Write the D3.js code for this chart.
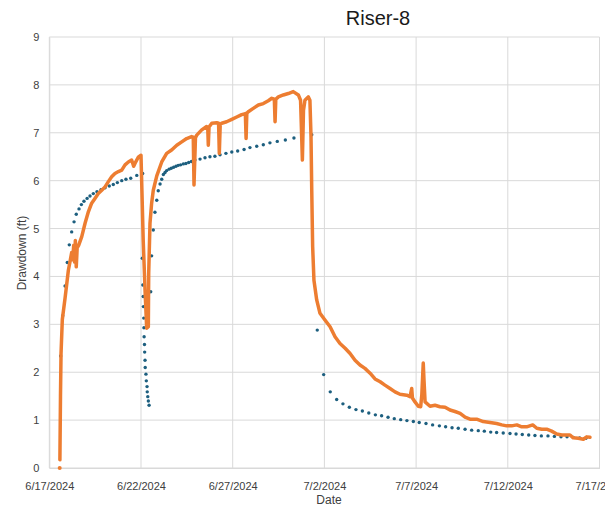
<!DOCTYPE html>
<html>
<head>
<meta charset="utf-8">
<script src="https://cdn.jsdelivr.net/npm/d3@7/dist/d3.min.js"></script>
<style>
  body { margin: 0; background: #fff; overflow: hidden; }
  text { font-family: "Liberation Sans", Arial, sans-serif; }
</style>
</head>
<body>
<div id="chart"></div>
<script>
// chart values
const startDate = new Date(2024, 5, 17);   // 6/17/2024
const endDate = new Date(2024, 6, 17);     // 7/17/2024
const xTickLabels = ["6/17/2024", "6/22/2024", "6/27/2024", "7/2/2024", "7/7/2024", "7/12/2024", "7/17/2024"];
const yTicks = [0, 1, 2, 3, 4, 5, 6, 7, 8, 9];

// measured drawdown (orange line), days since 6/17/2024 and feet
const measuredDays = [0.578, 0.61, 0.64, 0.71, 0.86, 1.04, 1.15, 1.22, 1.28, 1.33, 1.38, 1.42, 1.47, 1.52, 1.60, 1.77, 1.95, 2.13, 2.31, 2.49,
  2.67, 2.86, 3.04, 3.22, 3.40, 3.58, 3.77, 3.95, 4.13, 4.31, 4.49, 4.60, 4.67, 4.85, 5.0, 5.12, 5.22, 5.31, 5.40, 5.42,
  5.49, 5.58, 5.67, 5.86, 6.13, 6.40, 6.67, 6.95, 7.22, 7.49, 7.76, 7.85, 7.89, 7.97, 8.04, 8.31, 8.58, 8.64, 8.67, 8.71,
  8.86, 9.13, 9.23, 9.27, 9.32, 9.40, 9.67, 9.95, 10.22, 10.49, 10.69, 10.73, 10.77, 10.85, 11.12, 11.40, 11.67, 11.94, 12.13, 12.27,
  12.31, 12.35, 12.49, 12.76, 13.03, 13.30, 13.58, 13.70, 13.80, 13.86, 13.94, 14.12, 14.21, 14.27, 14.31, 14.36, 14.43, 14.58, 14.76, 15.03,
  15.31, 15.58, 15.85, 16.13, 16.40, 16.67, 16.94, 17.21, 17.49, 17.76, 18.04, 18.30, 18.58, 18.85, 19.12, 19.49, 19.67, 19.76, 19.80, 19.94,
  20.12, 20.25, 20.31, 20.39, 20.43, 20.49, 20.76, 21.03, 21.30, 21.58, 21.85, 22.12, 22.40, 22.67, 22.94, 23.30, 23.66, 24.03, 24.39, 24.67,
  24.94, 25.21, 25.49, 25.76, 26.03, 26.36, 26.58, 26.85, 27.12, 27.39, 27.67, 27.94, 28.21, 28.39, 28.57, 28.84, 29.12, 29.30, 29.48];
const measuredFt = [0.17, 1.5, 2.4, 3.1, 3.55, 4.13, 4.35, 4.5, 4.35, 4.65, 4.3, 4.75, 4.2, 4.6, 4.65, 4.83, 5.11, 5.35, 5.53, 5.63,
  5.73, 5.80, 5.87, 5.98, 6.08, 6.15, 6.19, 6.22, 6.33, 6.39, 6.43, 6.30, 6.36, 6.49, 6.53, 4.76, 3.72, 2.92, 2.95, 4.06,
  5.11, 5.53, 5.80, 6.10, 6.39, 6.57, 6.64, 6.74, 6.81, 6.88, 6.92, 6.91, 5.91, 6.90, 6.95, 7.06, 7.13, 7.10, 6.74, 7.12,
  7.20, 7.21, 7.20, 6.57, 7.18, 7.20, 7.23, 7.28, 7.33, 7.38, 7.40, 6.88, 7.41, 7.44, 7.51, 7.58, 7.61, 7.67, 7.72, 7.70,
  7.23, 7.70, 7.75, 7.79, 7.82, 7.86, 7.79, 7.68, 6.43, 7.47, 7.68, 7.75, 7.68, 6.92, 5.80, 4.62, 3.92, 3.51, 3.23, 3.09,
  2.95, 2.74, 2.60, 2.50, 2.39, 2.25, 2.15, 2.08, 1.98, 1.86, 1.80, 1.73, 1.66, 1.59, 1.54, 1.52, 1.49, 1.66, 1.46, 1.38,
  1.29, 1.28, 1.52, 2.19, 1.84, 1.38, 1.29, 1.31, 1.28, 1.27, 1.21, 1.18, 1.14, 1.06, 1.02, 1.02, 0.97, 0.95, 0.93, 0.90,
  0.88, 0.88, 0.90, 0.86, 0.86, 0.90, 0.83, 0.81, 0.81, 0.77, 0.71, 0.69, 0.69, 0.69, 0.63, 0.62, 0.60, 0.65, 0.64];
// single measured point left on its own at the start
const measuredDotDays = [0.567];
const measuredDotFt = [0];

// model drawdown (blue dots)
const modelDays = [0.62, 0.73, 0.86, 0.98, 1.09, 1.22, 1.35, 1.47, 1.62, 1.75, 1.89, 2.06, 2.22, 2.40, 2.60, 2.82, 3.04, 3.27, 3.49, 3.71,
  3.95, 4.18, 4.44, 4.77, 5.09, 5.07, 5.10, 5.12, 5.13, 5.15, 5.16, 5.17, 5.19, 5.20, 5.22, 5.23, 5.27, 5.29, 5.33, 5.34,
  5.37, 5.40, 5.44, 5.53, 5.58, 5.67, 5.76, 5.86, 5.94, 6.04, 6.13, 6.22, 6.31, 6.40, 6.53, 6.65, 6.78, 6.91, 7.03, 7.16,
  7.31, 7.45, 7.60, 7.75, 7.94, 8.22, 8.49, 8.76, 9.03, 9.31, 9.63, 9.95, 10.27, 10.62, 10.94, 11.31, 11.67, 12.03, 12.43, 12.87,
  13.34, 14.31, 14.61, 14.96, 15.32, 15.67, 16.01, 16.36, 16.72, 17.07, 17.42, 17.78, 18.12, 18.47, 18.81, 19.16, 19.50, 19.85, 20.17, 20.54,
  20.90, 21.27, 21.61, 21.96, 22.30, 22.67, 23.03, 23.39, 23.72, 24.07, 24.39, 24.75, 25.12, 25.45, 25.79, 26.14, 26.48, 26.83, 27.19, 27.54,
  27.90, 28.23, 28.57, 28.92, 29.26];
const modelFt = [2.34, 3.18, 3.80, 4.29, 4.66, 4.93, 5.14, 5.30, 5.41, 5.50, 5.57, 5.63, 5.68, 5.73, 5.77, 5.81, 5.85, 5.89, 5.92, 5.96,
  6.00, 6.03, 6.05, 6.11, 6.15, 4.38, 3.82, 3.58, 3.37, 3.13, 2.93, 2.74, 2.58, 2.42, 2.25, 2.10, 1.96, 1.82, 1.70, 1.59,
  1.49, 1.40, 1.31, 3.68, 4.43, 4.97, 5.34, 5.59, 5.79, 5.93, 6.03, 6.13, 6.17, 6.21, 6.24, 6.26, 6.28, 6.30, 6.32, 6.33,
  6.35, 6.36, 6.38, 6.40, 6.43, 6.45, 6.48, 6.50, 6.51, 6.54, 6.57, 6.60, 6.62, 6.65, 6.69, 6.72, 6.75, 6.79, 6.82, 6.85,
  6.89, 6.96, 2.88, 1.95, 1.59, 1.43, 1.34, 1.27, 1.22, 1.19, 1.15, 1.11, 1.09, 1.06, 1.03, 1.01, 0.99, 0.97, 0.95, 0.93,
  0.90, 0.88, 0.86, 0.84, 0.83, 0.81, 0.79, 0.78, 0.77, 0.75, 0.74, 0.73, 0.72, 0.71, 0.70, 0.69, 0.68, 0.67, 0.67, 0.66,
  0.65, 0.65, 0.64, 0.63, 0.62];

const margin = {top: 37, right: 5.5, bottom: 40, left: 49.3},
    width = 605 - margin.left - margin.right,
    height = 505 - margin.top - margin.bottom + 3;

const dayMs = 24 * 60 * 60 * 1000;
const toDate = d => new Date(startDate.getTime() + d * dayMs);

const svg = d3.select("#chart")
  .append("svg")
    .attr("width", 605)
    .attr("height", 508)
  .append("g")
    .attr("transform", `translate(${margin.left},${margin.top})`);

const x = d3.scaleTime()
  .domain([startDate, endDate])
  .range([0, width]);

const y = d3.scaleLinear()
  .domain([0, 9])
  .range([height, 0]);

const xTickDates = xTickLabels.map(s => d3.timeParse("%m/%d/%Y")(s));

// gridlines
svg.append("g")
  .selectAll("line")
  .data(yTicks)
  .join("line")
    .attr("x1", 0)
    .attr("x2", width)
    .attr("y1", d => y(d))
    .attr("y2", d => y(d))
    .attr("stroke", "#d9d9d9")
    .attr("stroke-width", 1);

svg.append("g")
  .selectAll("line")
  .data(xTickDates)
  .join("line")
    .attr("x1", d => x(d))
    .attr("x2", d => x(d))
    .attr("y1", 0)
    .attr("y2", height)
    .attr("stroke", "#d9d9d9")
    .attr("stroke-width", 1);

// axes
const xAxis = svg.append("g")
  .attr("transform", `translate(0, ${height})`)
  .call(d3.axisBottom(x)
    .tickValues(xTickDates)
    .tickFormat((d, i) => xTickLabels[i])
    .tickSize(0)
    .tickPadding(14));
xAxis.select(".domain").attr("stroke", "#d9d9d9");
xAxis.selectAll("text")
  .attr("fill", "#404040")
  .style("font-size", "11px");

const yAxis = svg.append("g")
  .call(d3.axisLeft(y)
    .tickValues(yTicks)
    .tickSize(0)
    .tickPadding(10));
yAxis.select(".domain").attr("stroke", "#d9d9d9");
yAxis.selectAll("text")
  .attr("fill", "#404040")
  .style("font-size", "11px");

// titles
svg.append("text")
  .attr("x", 378 - margin.left)
  .attr("y", 25 - margin.top)
  .style("text-anchor", "middle")
  .style("font-size", "20px")
  .attr("fill", "#1a1a1a")
  .text("Riser-8");

svg.append("text")
  .attr("x", 329 - margin.left)
  .attr("y", height + 36)
  .style("text-anchor", "middle")
  .style("font-size", "12px")
  .attr("fill", "#404040")
  .text("Date");

svg.append("text")
  .attr("transform", "rotate(-90)")
  .attr("x", -(253 - margin.top))
  .attr("y", 26 - margin.left)
  .style("text-anchor", "middle")
  .style("font-size", "12px")
  .attr("fill", "#404040")
  .text("Drawdown (ft)");

// model dots
svg.append("g")
  .selectAll("circle")
  .data(modelDays.map((d, i) => ({date: toDate(d), value: modelFt[i]})))
  .join("circle")
    .attr("cx", d => x(d.date))
    .attr("cy", d => y(d.value))
    .attr("r", 1.7)
    .attr("fill", "#1d5f7f");

// measured line
const measured = measuredDays.map((d, i) => ({date: toDate(d), value: measuredFt[i]}));
svg.append("path")
  .datum(measured)
  .attr("fill", "none")
  .attr("stroke", "#ed7d31")
  .attr("stroke-width", 3.5)
  .attr("stroke-linejoin", "round")
  .attr("stroke-linecap", "round")
  .attr("d", d3.line()
    .x(d => x(d.date))
    .y(d => y(d.value)));

svg.append("g")
  .selectAll("circle")
  .data(measuredDotDays.map((d, i) => ({date: toDate(d), value: measuredDotFt[i]})))
  .join("circle")
    .attr("cx", d => x(d.date))
    .attr("cy", d => y(d.value))
    .attr("r", 2)
    .attr("fill", "#ed7d31");
</script>
</body>
</html>
